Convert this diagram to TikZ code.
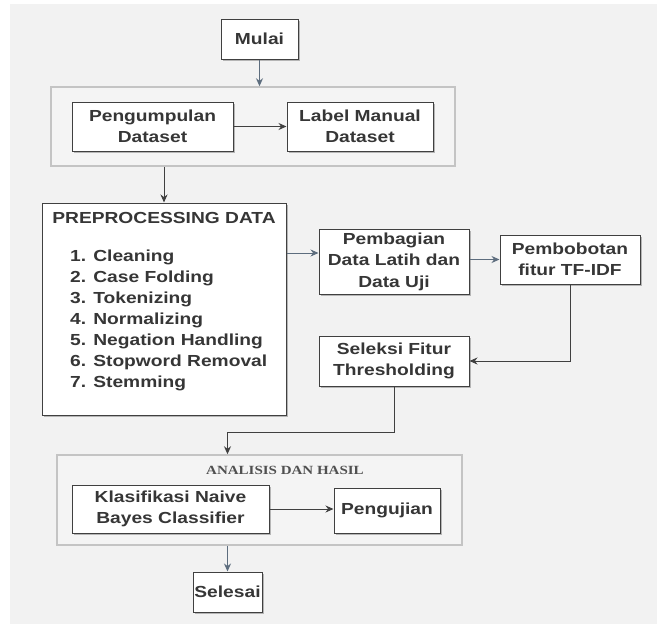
\documentclass[tikz,border=0pt]{standalone}
\usepackage{fontspec}
\setmainfont{Liberation Sans}[FakeStretch=1.2]
\newfontfamily\capserif{Liberation Serif}[FakeStretch=1.2]
\usetikzlibrary{arrows.meta,shadows}
\definecolor{bg}{HTML}{F2F2F2}
\definecolor{boxline}{HTML}{404040}
\definecolor{txt}{HTML}{363636}
\definecolor{grpline}{HTML}{C4C4C4}
\definecolor{grpfill}{HTML}{F4F4F4}
\definecolor{darkarr}{HTML}{404040}
\definecolor{slatearr}{HTML}{5D6D7E}
\definecolor{captxt}{HTML}{505050}
\begin{document}
\begin{tikzpicture}[x=1pt,y=-1pt,
  boxnode/.style={draw=boxline, line width=1pt, fill=white, inner sep=0pt, align=center,
    text=txt, font=\bfseries\fontsize{16}{21.5}\selectfont,
    drop shadow={shadow xshift=1.5pt, shadow yshift=-1.5pt, opacity=0.25, fill=black}},
  grpnode/.style={draw=grpline, line width=1.5pt, fill=grpfill, inner sep=0pt,
    drop shadow={shadow xshift=1.2pt, shadow yshift=-1.2pt, opacity=0.12, fill=black}},
  plaintext/.style={inner sep=0pt, text=txt, font=\bfseries\fontsize{16}{21}\selectfont},
  darkline/.style={draw=darkarr, line width=1pt, -{Stealth[length=8pt,width=7pt]}},
  slateline/.style={draw=slatearr, line width=1pt, -{Stealth[length=8pt,width=7pt]}}
]
\useasboundingbox (0,0) rectangle (657,624);
\fill[white] (0,0) rectangle (657,624);
\fill[bg] (10,4) rectangle (657,624);

% containers
\node[grpnode, minimum width=404pt, minimum height=79pt] (group1) at (253,126.5) {};
\node[grpnode, minimum width=405pt, minimum height=90pt] (group2) at (259.5,500) {};

% boxes
\node[boxnode, minimum width=77pt, minimum height=40pt] (mulai) at (259.5,39) {Mulai};
\node[boxnode, minimum width=161pt, minimum height=49pt] (peng) at (152.5,126.5) {Pengumpulan\\Dataset};
\node[boxnode, minimum width=146pt, minimum height=49pt] (label) at (360,126.5) {Label Manual\\Dataset};
\node[boxnode, minimum width=244pt, minimum height=212pt] (prep) at (164,309) {};
\node[plaintext] (preptitle) at (164,218) {PREPROCESSING DATA};
\node[plaintext, anchor=west, align=left] (preplist) at (70,320) {1. Cleaning\\2. Case Folding\\3. Tokenizing\\4. Normalizing\\5. Negation Handling\\6. Stopword Removal\\7. Stemming};
\node[boxnode, minimum width=150pt, minimum height=65pt] (bagi) at (394,261.5) {Pembagian\\Data Latih dan\\Data Uji};
\node[boxnode, minimum width=140pt, minimum height=49pt] (bobot) at (570,259.5) {Pembobotan\\fitur TF-IDF};
\node[boxnode, minimum width=150pt, minimum height=50pt] (seleksi) at (394,361) {Seleksi Fitur\\Thresholding};
\node[inner sep=0pt, text=captxt, font=\capserif\bfseries\fontsize{12.5}{14}\selectfont] (analisis) at (285,470) {ANALISIS DAN HASIL};
\node[boxnode, minimum width=197pt, minimum height=48pt] (klas) at (170.5,509) {Klasifikasi Naive\\Bayes Classifier};
\node[boxnode, minimum width=106pt, minimum height=45pt] (uji) at (387,510.5) {Pengujian};
\node[boxnode, minimum width=69pt, minimum height=40pt] (selesai) at (227.5,592) {Selesai};

% helper coordinates
\coordinate (pa) at (286,253);
\coordinate (bend) at (227.5,432);

% connectors
\draw[slateline] (mulai.south) -- (group1.north -| mulai.south);
\draw[darkline] (peng.east) -- (label.west);
\draw[darkline] (group1.south -| prep.north) -- (prep.north);
\draw[slateline] (prep.east |- pa) -- (bagi.west |- pa);
\draw[slateline] (bagi.east |- bobot.west) -- (bobot.west);
\draw[darkline] (bobot.south) |- (seleksi.east);
\draw[darkline] (seleksi.south) |- (bend) -- (bend |- group2.north);
\draw[darkline] (klas.east) -- (uji.west |- klas.east);
\draw[slateline] (group2.south -| selesai.north) -- (selesai.north);
\end{tikzpicture}
\end{document}
